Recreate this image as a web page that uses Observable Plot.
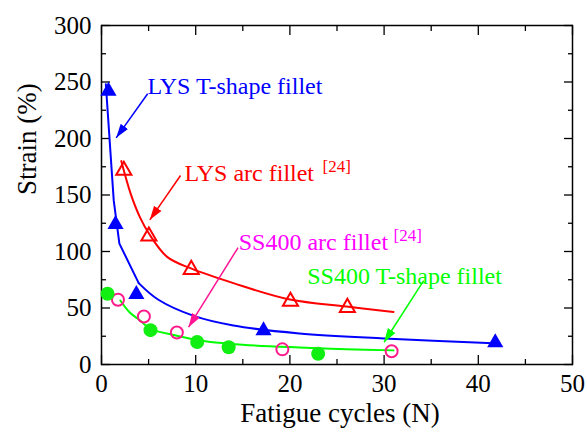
<!DOCTYPE html>
<html>
<head>
<meta charset="utf-8">
<script src="https://cdn.jsdelivr.net/npm/d3@7"></script>
<script src="https://cdn.jsdelivr.net/npm/@observablehq/plot@0.6"></script>
<style>
  html, body { margin: 0; padding: 0; background: white; }
</style>
</head>
<body>
<div id="chart"></div>
<script>
// ---- tick values ----
const xTicks = [0, 10, 20, 30, 40, 50];
const xMinor = [5, 15, 25, 35, 45];
const yTicks = [0, 50, 100, 150, 200, 250, 300];
const yMinor = [25, 75, 125, 175, 225, 275];

// ---- measured points ----
const lysTX = [0.74, 1.49, 3.7, 17.2, 41.8];
const lysTY = [242, 124, 62, 30, 19.5];
const lysArcX = [2.37, 5.03, 9.53, 20.06, 26.1];
const lysArcY = [171.7, 113.6, 84, 55.8, 50.4];
const ssArcX = [1.75, 4.5, 8.0, 19.2, 30.8];
const ssArcY = [57.3, 42.5, 28.3, 13.4, 11.7];
const ssTX = [0.64, 5.2, 10.16, 13.5, 23.0];
const ssTY = [62.6, 30.4, 19.9, 15.3, 9.5];

// ---- fitted curves ----
const lysTSteepX = [0.46, 1.3, 1.9, 3.95];
const lysTSteepY = [248, 145, 107, 72];
const lysTTailX = [3.95, 6.0, 9.8, 14, 21, 30, 42.2];
const lysTTailY = [72, 57.5, 43, 34.5, 27.5, 23, 18.5];
const lysArcCurveX = [2.1, 3.1, 4.1, 5.1, 7.0, 9.5, 14, 20, 26, 31];
const lysArcCurveY = [180, 151, 130, 115, 95, 85, 72, 57.5, 51.3, 46.5];
const ssTCurveX = [2.0, 3.0, 4.1, 5.2, 8.0, 10.2, 15, 21, 26, 31];
const ssTCurveY = [56.6, 46, 39, 31.5, 25.5, 21.5, 17.5, 15, 13.5, 12.5];

// ---- annotation labels ----
const labelText = ["LYS T-shape fillet", "LYS arc fillet", "SS400 arc fillet", "SS400 T-shape fillet"];
const labelX = [4.88, 8.81, 14.57, 21.84];
const labelY = [239.5, 162.8, 100.9, 71.4];
const supText = ["[24]", "[24]"];
const supX = [23.46, 31.0];
const supY = [170, 109.7];

// ---- arrows (tail -> head) ----
const arrowX1 = [4.9, 8.39, 14.5, 34.2];
const arrowY1 = [239.6, 167.3, 103.5, 74.3];
const arrowX2 = [1.56, 5.13, 9.24, 30.0];
const arrowY2 = [200.6, 128, 33, 19.7];

const zip = (xs, ys) => xs.map((x, i) => ({x, y: ys[i]}));

const FONT = "Liberation Serif";
const BLUE = "#0000ff", RED = "#ff0000", PINK = "#ff1a8c", MAGENTA = "#ff00ff", GREEN = "#00ff00", GREENDOT = "#11ee11";
const labelColors = [BLUE, RED, MAGENTA, GREEN];
const supColors = [RED, MAGENTA];
const arrowColors = [BLUE, RED, "#ff1493", GREEN];

const labels = labelText.map((t, i) => ({t, x: labelX[i], y: labelY[i], c: labelColors[i]}));
const sups = supText.map((t, i) => ({t, x: supX[i], y: supY[i], c: supColors[i]}));
const arrows = arrowX1.map((x1, i) => ({x1, y1: arrowY1[i], x2: arrowX2[i], y2: arrowY2[i], c: arrowColors[i]}));

const plot = Plot.plot({
  width: 587,
  height: 433,
  marginLeft: 101,
  marginRight: 15,
  marginTop: 25,
  marginBottom: 69,
  style: {fontFamily: FONT, background: "white", color: "black"},
  x: {domain: [0, 50]},
  y: {domain: [0, 300]},
  marks: [
    // tick labels
    Plot.axisX({ticks: xTicks, tickSize: 0, tickPadding: 10, fontSize: 25, fontFamily: FONT, label: null}),
    Plot.axisY({ticks: yTicks, tickSize: 0, tickPadding: 10, fontSize: 25, fontFamily: FONT, label: null}),
    // inward major ticks
    Plot.axisX({anchor: "bottom", ticks: xTicks, tickSize: 9, dy: -9, text: null, label: null, strokeWidth: 1.3}),
    Plot.axisX({anchor: "top", ticks: xTicks, tickSize: 9, dy: 9, text: null, label: null, strokeWidth: 1.3}),
    Plot.axisY({anchor: "left", ticks: yTicks, tickSize: 9, dx: 9, text: null, label: null, strokeWidth: 1.3}),
    Plot.axisY({anchor: "right", ticks: yTicks, tickSize: 9, dx: -9, text: null, label: null, strokeWidth: 1.3}),
    // inward minor ticks
    Plot.axisX({anchor: "bottom", ticks: xMinor, tickSize: 5, dy: -5, text: null, label: null, strokeWidth: 1.3}),
    Plot.axisX({anchor: "top", ticks: xMinor, tickSize: 5, dy: 5, text: null, label: null, strokeWidth: 1.3}),
    Plot.axisY({anchor: "left", ticks: yMinor, tickSize: 5, dx: 5, text: null, label: null, strokeWidth: 1.3}),
    Plot.axisY({anchor: "right", ticks: yMinor, tickSize: 5, dx: -5, text: null, label: null, strokeWidth: 1.3}),
    Plot.frame({stroke: "black", strokeWidth: 1.5}),
    // axis titles
    Plot.text(["Fatigue cycles (N)"], {frameAnchor: "bottom", dx: 3, dy: 57, lineAnchor: "bottom", fontSize: 27, fontFamily: FONT, fill: "black", text: d => d}),
    Plot.text(["Strain (%)"], {frameAnchor: "left", dx: -66, rotate: -90, lineAnchor: "bottom", fontSize: 27, fontFamily: FONT, fill: "black", text: d => d}),
    // curves
    Plot.line(zip(lysTSteepX, lysTSteepY), {x: "x", y: "y", stroke: BLUE, strokeWidth: 2, curve: "linear"}),
    Plot.line(zip(lysTTailX, lysTTailY), {x: "x", y: "y", stroke: BLUE, strokeWidth: 2, curve: "catmull-rom"}),
    Plot.line(zip(lysArcCurveX, lysArcCurveY), {x: "x", y: "y", stroke: RED, strokeWidth: 2, curve: "catmull-rom"}),
    Plot.line(zip(ssTCurveX, ssTCurveY), {x: "x", y: "y", stroke: GREEN, strokeWidth: 2, curve: "catmull-rom"}),
    // points
    Plot.dot(zip(lysTX, lysTY), {x: "x", y: "y", symbol: "triangle", r: 6, fill: BLUE, stroke: "none"}),
    Plot.dot(zip(lysArcX, lysArcY), {x: "x", y: "y", symbol: "triangle", r: 5.6, fill: "none", stroke: RED, strokeWidth: 2}),
    Plot.dot(zip(ssArcX, ssArcY), {x: "x", y: "y", symbol: "circle", r: 6, fill: "none", stroke: PINK, strokeWidth: 2}),
    Plot.dot(zip(ssTX, ssTY), {x: "x", y: "y", symbol: "circle", r: 7, fill: GREENDOT, stroke: "none"}),
    // arrows
    Plot.link(arrows, {x1: "x1", y1: "y1", x2: "x2", y2: "y2", stroke: "c", strokeWidth: 1.5, markerEnd: "arrow"}),
    // labels
    Plot.text(labels, {x: "x", y: "y", text: "t", fill: "c", fontSize: 24, fontFamily: FONT, textAnchor: "start", lineAnchor: "bottom"}),
    Plot.text(sups, {x: "x", y: "y", text: "t", fill: "c", fontSize: 17, fontFamily: FONT, textAnchor: "start", lineAnchor: "bottom"})
  ]
});

// make the arrow heads filled triangles
plot.querySelectorAll("marker").forEach(m => {
  const color = m.getAttribute("stroke");
  m.setAttribute("markerUnits", "userSpaceOnUse");
  m.setAttribute("viewBox", "-14 -5 14 10");
  m.setAttribute("markerWidth", "14");
  m.setAttribute("markerHeight", "10");
  m.setAttribute("refX", "0");
  m.setAttribute("refY", "0");
  m.setAttribute("fill", color);
  m.setAttribute("stroke", "none");
  const p = m.querySelector("path");
  if (p) {
    p.setAttribute("d", "M-14,-4.5L0,0L-14,4.5Z");
    p.setAttribute("fill", color);
    p.setAttribute("stroke", "none");
  }
});

document.getElementById("chart").appendChild(plot);
</script>
</body>
</html>
